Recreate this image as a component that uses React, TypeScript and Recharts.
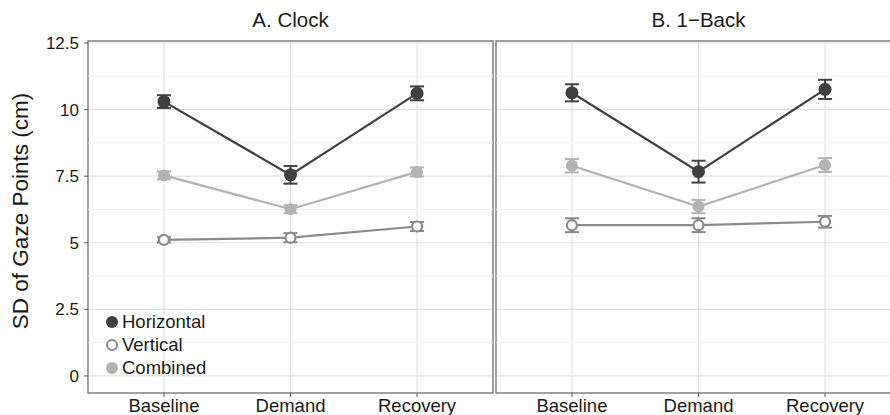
import React from 'react';
import { LineChart, Line, XAxis, YAxis, CartesianGrid, ErrorBar, ReferenceLine, ReferenceArea } from 'recharts';

const categories = ['Baseline', 'Demand', 'Recovery'];
const panelTitles = ['A. Clock', 'B. 1\u2212Back'];
const yTicks = [0, 2.5, 5, 7.5, 10, 12.5];
const yMinor = [1.25, 3.75, 6.25, 8.75, 11.25];

const clockHorizontal = [10.3, 7.55, 10.61];
const clockHorizontalErr = [0.24, 0.33, 0.26];
const clockVertical = [5.11, 5.19, 5.61];
const clockVerticalErr = [0.1, 0.17, 0.17];
const clockCombined = [7.53, 6.26, 7.66];
const clockCombinedErr = [0.15, 0.15, 0.17];

const backHorizontal = [10.63, 7.67, 10.76];
const backHorizontalErr = [0.32, 0.41, 0.36];
const backVertical = [5.66, 5.66, 5.79];
const backVerticalErr = [0.26, 0.26, 0.22];
const backCombined = [7.89, 6.36, 7.92];
const backCombinedErr = [0.25, 0.25, 0.26];

const FONT = "'Liberation Sans', Arial, Helvetica, sans-serif";
const C_H = '#404040';
const C_V = '#8a8a8a';
const C_C = '#b3b3b3';

const build = (h: number[], he: number[], v: number[], ve: number[], c: number[], ce: number[]) =>
  categories.map((cat, i) => ({ x: i + 1, cat, h: h[i], he: he[i], v: v[i], ve: ve[i], c: c[i], ce: ce[i] }));

const clockData = build(clockHorizontal, clockHorizontalErr, clockVertical, clockVerticalErr, clockCombined, clockCombinedErr);
const backData = build(backHorizontal, backHorizontalErr, backVertical, backVerticalErr, backCombined, backCombinedErr);

const Y_DOMAIN: [number, number] = [-0.64, 12.575];
const X_DOMAIN: [number, number] = [0.4, 3.6];

const legendItems = [
  { name: 'Horizontal', fill: C_H, stroke: C_H, hollow: false },
  { name: 'Vertical', fill: '#ffffff', stroke: C_V, hollow: true },
  { name: 'Combined', fill: C_C, stroke: C_C, hollow: false },
];

const LegendBox = () => (
  <div style={{ position: 'absolute', left: 104, top: 310, fontFamily: FONT, fontSize: 18.5, color: '#1a1a1a', lineHeight: '23px' }}>
    {legendItems.map((it) => (
      <div key={it.name} style={{ display: 'flex', alignItems: 'center', height: 23 }}>
        <svg width={16} height={16} style={{ marginRight: 2 }}>
          <circle cx={8} cy={8} r={it.hollow ? 5 : 6} fill={it.fill} stroke={it.stroke} strokeWidth={it.hollow ? 2 : 0} />
        </svg>
        <span>{it.name}</span>
      </div>
    ))}
  </div>
);

const yLabel = (props: any) => {
  const vb = props.viewBox || {};
  const cx = 20;
  const cy = (vb.y ?? 41) + (vb.height ?? 352) / 2 - 6;
  return (
    <text x={cx} y={cy} transform={`rotate(-90, ${cx}, ${cy})`} textAnchor="middle" dominantBaseline="central"
      style={{ fontFamily: FONT, fontSize: 22.5, fill: '#1a1a1a' }}>
      SD of Gaze Points (cm)
    </text>
  );
};

function Panel({ data, showY }: { data: any[]; showY: boolean }) {
  const width = showY ? 494 : 407;
  return (
    <LineChart width={width} height={415} data={data} margin={{ top: 41, right: 1, bottom: 0, left: showY ? 0 : 1 }}>
      <CartesianGrid stroke="#e2e2e2" strokeWidth={1.2} />
      {yMinor.map((y) => (
        <ReferenceLine key={y} y={y} stroke="#f3f3f3" strokeWidth={1} ifOverflow="visible" />
      ))}
      <XAxis
        dataKey="x"
        type="number"
        domain={X_DOMAIN}
        ticks={[1, 2, 3]}
        allowDataOverflow
        tickFormatter={(v: number) => categories[v - 1]}
        axisLine={false}
        tickLine={{ stroke: '#555' }}
        tickSize={4}
        height={22}
        tick={{ fontFamily: FONT, fontSize: 18.5, fill: '#1a1a1a' }}
        interval={0}
      />
      <YAxis
        type="number"
        domain={Y_DOMAIN}
        ticks={yTicks}
        allowDataOverflow
        hide={!showY}
        width={88}
        axisLine={false}
        tickLine={{ stroke: '#555' }}
        tickSize={4}
        tickMargin={5}
        tick={{ fontFamily: FONT, fontSize: 17, fill: '#1a1a1a' }}
        label={showY ? { content: yLabel } : undefined}
      />
      <ReferenceArea x1={X_DOMAIN[0]} x2={X_DOMAIN[1]} y1={Y_DOMAIN[0]} y2={Y_DOMAIN[1]} fill="none" fillOpacity={0}
        stroke="#858585" strokeWidth={1.5} ifOverflow="visible" />
      <Line dataKey="v" stroke={C_V} strokeWidth={2.2} isAnimationActive={false}
        dot={{ r: 5, fill: '#ffffff', stroke: C_V, strokeWidth: 2.2 }}>
        <ErrorBar dataKey="ve" direction="y" width={7} stroke={C_V} strokeWidth={2} />
      </Line>
      <Line dataKey="c" stroke={C_C} strokeWidth={2.2} isAnimationActive={false}
        dot={{ r: 6, fill: C_C, stroke: C_C, strokeWidth: 0 }}>
        <ErrorBar dataKey="ce" direction="y" width={7} stroke={C_C} strokeWidth={2} />
      </Line>
      <Line dataKey="h" stroke={C_H} strokeWidth={2.2} isAnimationActive={false}
        dot={{ r: 6.5, fill: C_H, stroke: C_H, strokeWidth: 0 }}>
        <ErrorBar dataKey="he" direction="y" width={7} stroke={C_H} strokeWidth={2} />
      </Line>
    </LineChart>
  );
}

export default function App() {
  return (
    <div style={{ position: 'absolute', left: 0, top: 0, width: 890, height: 415, overflow: 'hidden', background: '#fff' }}>
      <div style={{ position: 'absolute', left: 0, top: 0 }}>
        <Panel data={clockData} showY />
      </div>
      <div style={{ position: 'absolute', left: 495, top: 0 }}>
        <Panel data={backData} showY={false} />
      </div>
      <LegendBox />
      <div style={{ position: 'absolute', left: 88, width: 405, top: 8, textAlign: 'center', fontFamily: FONT, fontSize: 20.5, color: '#1a1a1a' }}>
        {panelTitles[0]}
      </div>
      <div style={{ position: 'absolute', left: 496, width: 405, top: 8, textAlign: 'center', fontFamily: FONT, fontSize: 20.5, color: '#1a1a1a' }}>
        {panelTitles[1]}
      </div>
    </div>
  );
}
